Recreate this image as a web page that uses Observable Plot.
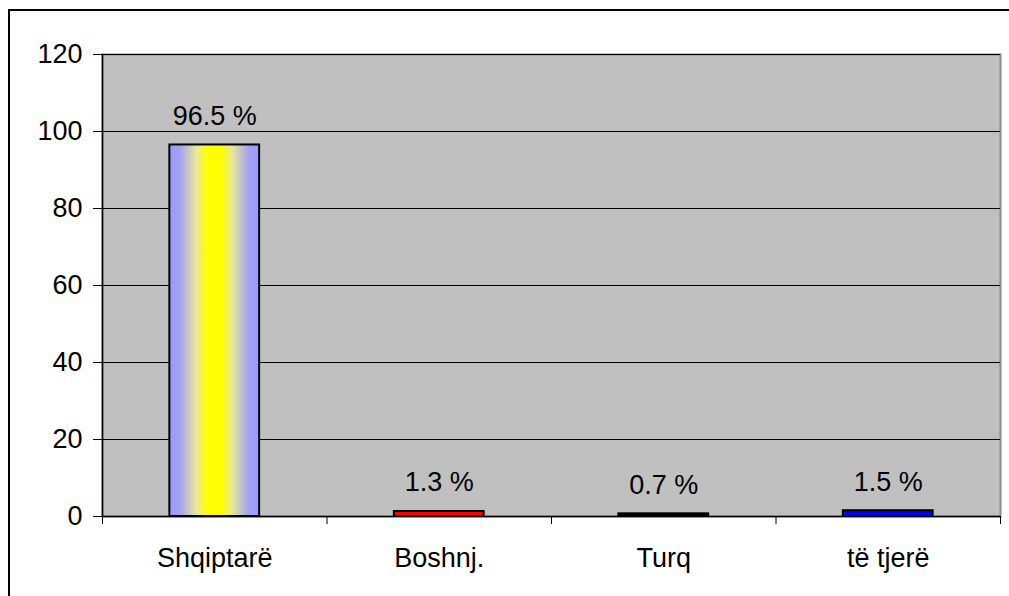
<!DOCTYPE html>
<html>
<head>
<meta charset="utf-8">
<script src="https://cdn.jsdelivr.net/npm/d3@7"></script>
<script src="https://cdn.jsdelivr.net/npm/@observablehq/plot@0.6"></script>
<style>
  html, body { margin: 0; padding: 0; background: #fff; overflow: hidden; }
  #wrap { position: relative; width: 1009px; height: 596px; }
  #wrap svg { position: absolute; left: 0; top: 0; }
  #border { position: absolute; left: 8px; top: 9px; width: 1020px; height: 600px;
            border-left: 2px solid #000; border-top: 2px solid #000; box-sizing: border-box; pointer-events: none; }
</style>
</head>
<body>
<div id="wrap"><div id="border"></div></div>
<script>
const categories = ["Shqiptarë", "Boshnj.", "Turq", "të tjerë"];
const values = [96.5, 1.3, 0.7, 1.5];
const labels = ["96.5 %", "1.3 %", "0.7 %", "1.5 %"];
const fills = ["url(#barGrad)", "#ff0000", "#000000", "#0000ff"];
const yTicks = [0, 20, 40, 60, 80, 100, 120];

const data = categories.map((c, i) => ({cat: c, i, value: values[i], label: labels[i], fill: fills[i]}));

const font = "Liberation Sans, Arial, sans-serif";
const fs = 27;

const chart = Plot.plot({
  width: 1009,
  height: 596,
  marginLeft: 102,
  marginRight: 9,
  marginTop: 54,
  marginBottom: 80,
  style: {fontFamily: font, fontSize: fs + "px", color: "#000", background: "transparent"},
  x: {type: "linear", domain: [0, categories.length], axis: null},
  y: {domain: [0, 120], axis: null},
  color: {type: "identity"},
  marks: [
    Plot.frame({fill: "#c0c0c0", stroke: "#8a8a8a", strokeWidth: 2}),
    Plot.gridY(yTicks, {stroke: "#000", strokeOpacity: 1, strokeWidth: 1}),
    Plot.rectY(data, {
      x1: d => d.i + 0.3, x2: d => d.i + 0.7, y1: 0, y2: "value",
      fill: "fill", stroke: "#000", strokeWidth: 2
    }),
    Plot.text(data, {
      x: d => d.i + 0.5, y: "value", text: "label",
      lineAnchor: "bottom", dy: -20, fontSize: fs, fill: "#000"
    }),
    Plot.ruleY([0], {stroke: "#000", strokeWidth: 1.5}),
    Plot.frame({anchor: "left", stroke: "#000", strokeWidth: 1.5}),
    Plot.axisY(yTicks, {tickSize: 9, tickPadding: 11, fontSize: fs, stroke: "#000", label: null, tickFormat: d => String(d)}),
    Plot.axisX(d3.range(categories.length + 1), {tickSize: 8, tickFormat: () => "", stroke: "#000", label: null}),
    Plot.axisX(d3.range(categories.length).map(i => i + 0.5), {
      tickSize: 0, tickPadding: 31, fontSize: fs, label: null, tickFormat: d => categories[Math.floor(d)]
    })
  ]
});

const svg = d3.select(chart);
const defs = svg.insert("defs", ":first-child");
const grad = defs.append("linearGradient").attr("id", "barGrad")
  .attr("x1", "0%").attr("x2", "100%").attr("y1", "0%").attr("y2", "0%");
[[0, "#9999ff"], [0.12, "#a3a3f0"], [0.3, "#e8e89a"], [0.42, "#ffff00"], [0.58, "#ffff00"], [0.7, "#e8e89a"], [0.88, "#a3a3f0"], [1, "#9999ff"]]
  .forEach(([o, c]) => grad.append("stop").attr("offset", o).attr("stop-color", c));

document.getElementById("wrap").appendChild(chart);
</script>
</body>
</html>
